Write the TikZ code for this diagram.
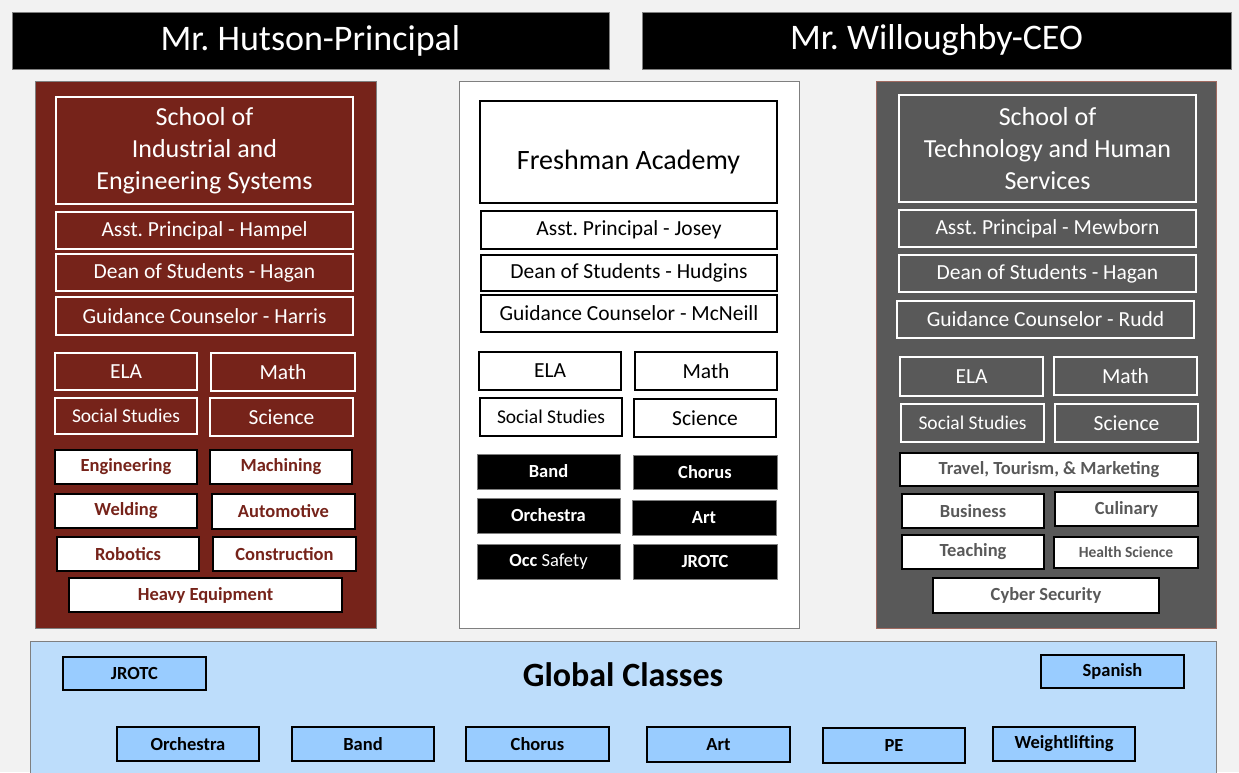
\documentclass[tikz,border=0pt]{standalone}
\usepackage{fontspec}
\setmainfont{Carlito}
\frenchspacing
\definecolor{pagebg}{HTML}{F2F2F2}
\definecolor{maroon}{HTML}{76231A}
\definecolor{dgray}{HTML}{595959}
\definecolor{gblue}{HTML}{BDDDFB}
\definecolor{bblue}{HTML}{99CCFF}
\definecolor{pborder}{HTML}{7F7F7F}
\definecolor{rborder}{HTML}{A06A60}
\newcommand\fs[2]{\fontsize{#1}{#2}\selectfont}
\newcommand\bx[7]{\node[#2, minimum width={(#5-#3)*1pt}, minimum height={(#6-#4)*1pt}] (#1) at ({(#3+#5)/2},{(#4+#6)/2}) {#7};}
\tikzset{
  base/.style={rectangle, inner sep=0pt, outer sep=0pt, align=center},
  titlebar/.style={base, fill=black, draw=pborder, line width=0.6pt, text=white, font=\fs{36}{40}},
  panel/.style={base, draw=pborder, line width=1pt},
  wline/.style={base, draw=white, line width=1.5pt, text=white},
  bline/.style={base, draw=black, line width=1.3pt, fill=white, text=black},
  staff/.style={font=\fs{21.5}{26}},
  subj/.style={font=\fs{21.5}{26}},
  subjs/.style={font=\fs{19.5}{24}},
  prog/.style={base, fill=white, draw=black, line width=1.6pt, font=\bfseries\fs{18.5}{22}},
  bprog/.style={base, fill=black, draw=pborder, line width=0.6pt, text=white, font=\bfseries\fs{18.5}{22}},
  gbtn/.style={base, fill=bblue, draw=black, line width=1.6pt, text=black, font=\bfseries\fs{18.5}{22}},
}
\begin{document}
\begin{tikzpicture}[x=1pt,y=-1pt]
\useasboundingbox (0,0) rectangle (1239,772);
\fill[pagebg] (0,0) rectangle (1239,772);

% title bars
\bx{hutson}{titlebar}{12}{12}{609}{69}{Mr. Hutson-Principal}
\bx{willoughby}{titlebar}{642}{12}{1231}{69}{Mr. Willoughby-CEO}

% panels
\bx{pleft}{panel, fill=maroon}{35}{81}{376}{628}{}
\bx{pmid}{panel, fill=white}{459}{81}{799}{628}{}
\bx{pright}{panel, fill=dgray, draw=rborder}{876}{81}{1216}{628}{}
\bx{pglobal}{panel, fill=gblue}{30}{641}{1216}{790}{}

% ---------- left: Industrial and Engineering ----------
\bx{lschool}{wline, font=\fs{26}{32}}{56}{97}{353}{204}{School of\\Industrial and\\Engineering Systems}
\bx{lap}{wline, staff}{56}{212}{353}{249}{Asst. Principal - Hampel}
\bx{ldean}{wline, staff}{56}{254}{353}{291}{Dean of Students - Hagan}
\bx{lgc}{wline, staff}{56}{297}{353}{335}{Guidance Counselor - Harris}
\bx{lela}{wline, subj}{55}{353}{197}{390}{ELA}
\bx{lmath}{wline, subj}{211}{353}{355}{391}{Math}
\bx{lss}{wline, subjs}{55}{398}{197}{434}{Social Studies}
\bx{lsci}{wline, subj}{210}{398}{353}{436}{Science}
\bx{leng}{prog, text=maroon}{55}{450}{197}{484}{Engineering}
\bx{lmach}{prog, text=maroon}{210}{450}{352}{484}{Machining}
\bx{lweld}{prog, text=maroon}{55}{494}{197}{528}{Welding}
\bx{lauto}{prog, text=maroon}{212}{494}{355}{529}{Automotive}
\bx{lrob}{prog, text=maroon}{57}{537}{199}{571}{Robotics}
\bx{lcons}{prog, text=maroon}{213}{537}{356}{571}{Construction}
\bx{lheavy}{prog, text=maroon}{69}{578}{342}{612}{Heavy Equipment}

% ---------- middle: Freshman Academy ----------
\bx{mfresh}{bline, font=\fs{28}{32}, text height=34pt, text depth=0pt}{480}{101}{777}{203}{Freshman Academy}
\bx{map}{bline, staff}{481}{211}{777}{249}{Asst. Principal - Josey}
\bx{mdean}{bline, staff}{481}{255}{777}{291}{Dean of Students - Hudgins}
\bx{mgc}{bline, staff}{481}{295}{777}{332}{Guidance Counselor - McNeill}
\bx{mela}{bline, subj}{479}{352}{621}{390}{ELA}
\bx{mmath}{bline, subj}{635}{352}{777}{390}{Math}
\bx{mss}{bline, subjs}{480}{398}{622}{436}{Social Studies}
\bx{msci}{bline, subj}{634}{399}{776}{437}{Science}
\bx{mband}{bprog}{477}{454}{620}{489}{Band}
\bx{mchorus}{bprog}{633}{455}{777}{489}{Chorus}
\bx{morch}{bprog}{477}{498}{620}{533}{Orchestra}
\bx{mart}{bprog}{632}{500}{776}{535}{Art}
\bx{mocc}{bprog}{477}{544}{620}{579}{Occ {\mdseries Safety}}
\bx{mjrotc}{bprog}{633}{544}{777}{579}{JROTC}

% ---------- right: Technology and Human Services ----------
\bx{rschool}{wline, font=\fs{26}{32}}{899}{95}{1196}{202}{School of\\Technology and Human\\Services}
\bx{rap}{wline, staff}{899}{210}{1196}{247}{Asst. Principal - Mewborn}
\bx{rdean}{wline, staff}{899}{255}{1196}{292}{Dean of Students - Hagan}
\bx{rgc}{wline, staff}{897}{301}{1194}{338}{Guidance Counselor - Rudd}
\bx{rela}{wline, subj}{900}{357}{1043}{396}{ELA}
\bx{rmath}{wline, subj}{1054}{357}{1197}{395}{Math}
\bx{rss}{wline, subjs}{901}{404}{1044}{442}{Social Studies}
\bx{rsci}{wline, subj}{1055}{404}{1198}{442}{Science}
\bx{rtravel}{prog, text=dgray}{900}{453}{1198}{486}{Travel, Tourism, \& Marketing}
\bx{rbus}{prog, text=dgray}{902}{494}{1044}{528}{Business}
\bx{rcul}{prog, text=dgray}{1055}{492}{1198}{526}{Culinary}
\bx{rteach}{prog, text=dgray}{902}{535}{1044}{569}{Teaching}
\bx{rhealth}{prog, text=dgray, font=\bfseries\fs{15.5}{18}}{1054}{537}{1198}{568}{Health Science}
\bx{rcyber}{prog, text=dgray}{933}{578}{1159}{613}{Cyber Security}

% ---------- Global classes ----------
\node[base, font=\bfseries\fs{34}{38}] (gtitle) at (623,675) {Global Classes};
\bx{gjrotc}{gbtn}{63}{657}{206}{690}{JROTC}
\bx{gspan}{gbtn}{1041}{655}{1184}{688}{Spanish}
\bx{gorch}{gbtn}{117}{727}{259}{761}{Orchestra}
\bx{gband}{gbtn}{292}{727}{434}{761}{Band}
\bx{gchorus}{gbtn}{466}{727}{609}{761}{Chorus}
\bx{gart}{gbtn}{647}{727}{790}{762}{Art}
\bx{gpe}{gbtn}{823}{728}{965}{763}{PE}
\bx{gweight}{gbtn}{993}{727}{1135}{761}{Weightlifting}
\end{tikzpicture}
\end{document}
